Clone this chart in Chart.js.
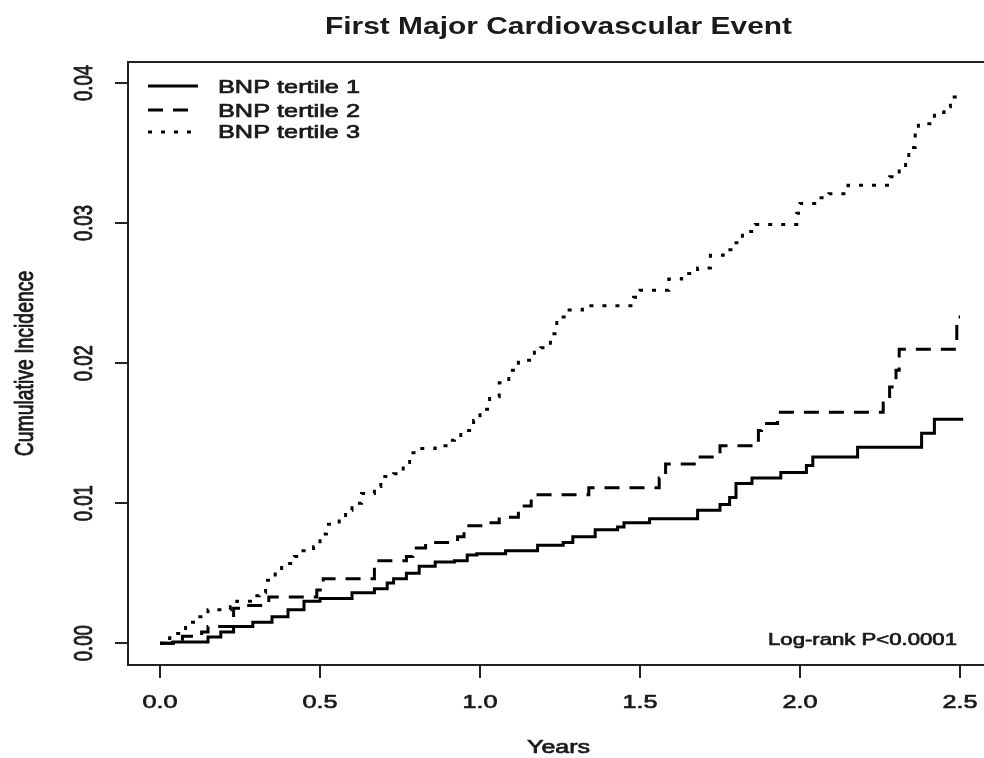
<!DOCTYPE html>
<html><head><meta charset="utf-8">
<script src="https://cdn.jsdelivr.net/npm/chart.js@4.4.1/dist/chart.umd.min.js"></script>
<style>html,body{margin:0;padding:0;background:#fff;}canvas{display:block;}</style>
</head><body>
<canvas id="c" width="984" height="758"></canvas>
<script>
const chartTitle = 'First Major Cardiovascular Event';
const xAxisTitle = 'Years';
const yAxisTitle = 'Cumulative Incidence';
const annotationText = 'Log-rank P<0.0001';
const seriesNames = ['BNP tertile 1', 'BNP tertile 2', 'BNP tertile 3'];
const xTickValues = [0, 0.5, 1, 1.5, 2, 2.5];
const xTickLabels = ['0.0', '0.5', '1.0', '1.5', '2.0', '2.5'];
const yTickValues = [0, 0.01, 0.02, 0.03, 0.04];
const yTickLabels = ['0.00', '0.01', '0.02', '0.03', '0.04'];

const tertile1Times  = [0, 0.04, 0.15, 0.19, 0.23, 0.29, 0.35, 0.40, 0.45, 0.50, 0.60, 0.67, 0.71, 0.73, 0.77, 0.81, 0.86, 0.92, 0.96, 0.99, 1.08, 1.18, 1.26, 1.29, 1.36, 1.43, 1.45, 1.53, 1.68, 1.75, 1.78, 1.80, 1.85, 1.94, 2.02, 2.04, 2.18, 2.38, 2.42, 2.51];
const tertile1Values = [0, 0.0001, 0.00045, 0.0008, 0.0012, 0.0015, 0.0019, 0.0024, 0.0030, 0.0032, 0.0036, 0.0039, 0.0043, 0.0046, 0.0050, 0.0055, 0.0058, 0.0059, 0.0063, 0.0064, 0.0066, 0.0070, 0.0072, 0.0076, 0.0081, 0.0083, 0.0086, 0.0089, 0.0095, 0.0099, 0.0104, 0.0114, 0.0118, 0.0122, 0.0127, 0.0133, 0.0140, 0.0150, 0.0160, 0.0160];

const tertile2Times  = [0, 0.07, 0.13, 0.15, 0.23, 0.25, 0.34, 0.49, 0.51, 0.67, 0.77, 0.79, 0.83, 0.93, 0.95, 1.01, 1.06, 1.12, 1.16, 1.34, 1.56, 1.58, 1.68, 1.75, 1.87, 1.88, 1.93, 2.26, 2.28, 2.30, 2.31, 2.49, 2.50];
const tertile2Values = [0, 0.0005, 0.0008, 0.0012, 0.0025, 0.0027, 0.0033, 0.0038, 0.0046, 0.0059, 0.0062, 0.0068, 0.0072, 0.0076, 0.0084, 0.0086, 0.0090, 0.0098, 0.0106, 0.0111, 0.0118, 0.0128, 0.0133, 0.0141, 0.0152, 0.0157, 0.0165, 0.0174, 0.0183, 0.0195, 0.0210, 0.0233, 0.0233];

const tertile3Times  = [0, 0.03, 0.05, 0.08, 0.11, 0.15, 0.22, 0.24, 0.29, 0.31, 0.33, 0.36, 0.38, 0.42, 0.44, 0.48, 0.50, 0.52, 0.56, 0.58, 0.60, 0.63, 0.67, 0.69, 0.73, 0.76, 0.78, 0.81, 0.86, 0.90, 0.92, 0.94, 0.98, 1.00, 1.03, 1.06, 1.09, 1.12, 1.17, 1.19, 1.22, 1.24, 1.27, 1.32, 1.48, 1.50, 1.59, 1.63, 1.68, 1.72, 1.76, 1.80, 1.82, 1.86, 1.99, 2.00, 2.06, 2.09, 2.15, 2.28, 2.31, 2.33, 2.34, 2.36, 2.37, 2.42, 2.45, 2.47, 2.49, 2.50];
const tertile3Values = [0, 0.0004, 0.0007, 0.0015, 0.0019, 0.0024, 0.0026, 0.0030, 0.0034, 0.0036, 0.0045, 0.0052, 0.0057, 0.0062, 0.0066, 0.0069, 0.0078, 0.0085, 0.0090, 0.0095, 0.0100, 0.0107, 0.0112, 0.0119, 0.0121, 0.0129, 0.0136, 0.0139, 0.0141, 0.0145, 0.0147, 0.0152, 0.0159, 0.0167, 0.0176, 0.0186, 0.0195, 0.0202, 0.0209, 0.0211, 0.0221, 0.0233, 0.0238, 0.0241, 0.0247, 0.0252, 0.0260, 0.0264, 0.0268, 0.0277, 0.0281, 0.0286, 0.0294, 0.0299, 0.0307, 0.0314, 0.0318, 0.0321, 0.0327, 0.0333, 0.0339, 0.0345, 0.0354, 0.0365, 0.0371, 0.0379, 0.0383, 0.0390, 0.0394, 0.0394];

const FONT = '"Liberation Sans", Arial, Helvetica, sans-serif';
const SX = 1.36;
const INK = '#1a1a1a';

function toPoints(times, values) { return times.map((t, i) => ({ x: t, y: values[i] })); }

function drawText(ctx, text, x, y, opts) {
  ctx.save();
  ctx.font = (opts.bold ? 'bold ' : '') + opts.size + 'px ' + FONT;
  ctx.fillStyle = INK;
  ctx.strokeStyle = INK;
  ctx.lineWidth = 0.7;
  ctx.lineJoin = 'round';
  ctx.textAlign = opts.align || 'center';
  ctx.textBaseline = 'alphabetic';
  let sx = SX;
  if (opts.width && !opts.rotate) sx = opts.width / ctx.measureText(text).width;
  ctx.translate(x, y);
  ctx.scale(sx, 1);
  if (opts.rotate) ctx.rotate(-Math.PI / 2);
  ctx.fillText(text, 0, 0);
  if (!opts.bold) ctx.strokeText(text, 0, 0);
  ctx.restore();
}

const dashes = [[], [15, 10], [4, 9]];

const decor = {
  id: 'decor',
  afterDraw(chart) {
    const ctx = chart.ctx, ca = chart.chartArea;
    const xs = chart.scales.x, ys = chart.scales.y;
    ctx.save();
    ctx.strokeStyle = '#222';
    ctx.lineWidth = 2;
    ctx.beginPath();
    ctx.moveTo(ca.right + 10, ca.top);
    ctx.lineTo(ca.left, ca.top);
    ctx.lineTo(ca.left, ca.bottom);
    ctx.lineTo(ca.right + 10, ca.bottom);
    ctx.stroke();
    ctx.beginPath();
    xTickValues.forEach(v => { const px = Math.round(xs.getPixelForValue(v)); ctx.moveTo(px, ca.bottom); ctx.lineTo(px, ca.bottom + 13); });
    yTickValues.forEach(v => { const py = Math.round(ys.getPixelForValue(v)); ctx.moveTo(ca.left, py); ctx.lineTo(ca.left - 13, py); });
    ctx.stroke();
    ctx.restore();

    xTickValues.forEach((v, i) => drawText(ctx, xTickLabels[i], xs.getPixelForValue(v), 708, { size: 18.5 }));
    yTickValues.forEach((v, i) => drawText(ctx, yTickLabels[i], 91.5, ys.getPixelForValue(v), { size: 18.5, rotate: true }));

    drawText(ctx, chartTitle, 558.5, 34, { size: 23, bold: true, width: 467 });
    drawText(ctx, xAxisTitle, 558.5, 753, { size: 18.5, width: 63 });
    drawText(ctx, yAxisTitle, 33, (ca.top + ca.bottom) / 2, { size: 19.4, rotate: true });
    drawText(ctx, annotationText, 957, 645, { size: 16.5, align: 'right', width: 189 });

    const lineY = [86, 110, 132], textY = [93.3, 116.7, 138.3];
    seriesNames.forEach((name, i) => {
      ctx.save();
      ctx.strokeStyle = '#000';
      ctx.lineWidth = 3;
      ctx.lineCap = 'butt';
      ctx.setLineDash(dashes[i]);
      ctx.beginPath();
      ctx.moveTo(148, lineY[i]);
      ctx.lineTo(198, lineY[i]);
      ctx.stroke();
      ctx.restore();
      drawText(ctx, name, 218, textY[i], { size: 18.5, align: 'left', width: 142 });
    });
  }
};

const seriesTimes = [tertile1Times, tertile2Times, tertile3Times];
const seriesValues = [tertile1Values, tertile2Values, tertile3Values];

new Chart(document.getElementById('c'), {
  type: 'line',
  data: {
    datasets: seriesNames.map((name, i) => ({
      label: name,
      data: toPoints(seriesTimes[i], seriesValues[i]),
      borderColor: '#000',
      borderWidth: 3,
      borderDash: dashes[i],
      borderCapStyle: 'butt',
      stepped: true,
      pointRadius: 0,
      fill: false,
      tension: 0
    }))
  },
  options: {
    responsive: false,
    animation: false,
    layout: { padding: { left: 128, top: 62, right: 0, bottom: 93 } },
    plugins: { legend: { display: false }, tooltip: { enabled: false }, title: { display: false } },
    scales: {
      x: { type: 'linear', display: false, min: -0.1, max: 2.575 },
      y: { type: 'linear', display: false, min: -0.00155, max: 0.0415 }
    }
  },
  plugins: [decor]
});
</script>
</body></html>
